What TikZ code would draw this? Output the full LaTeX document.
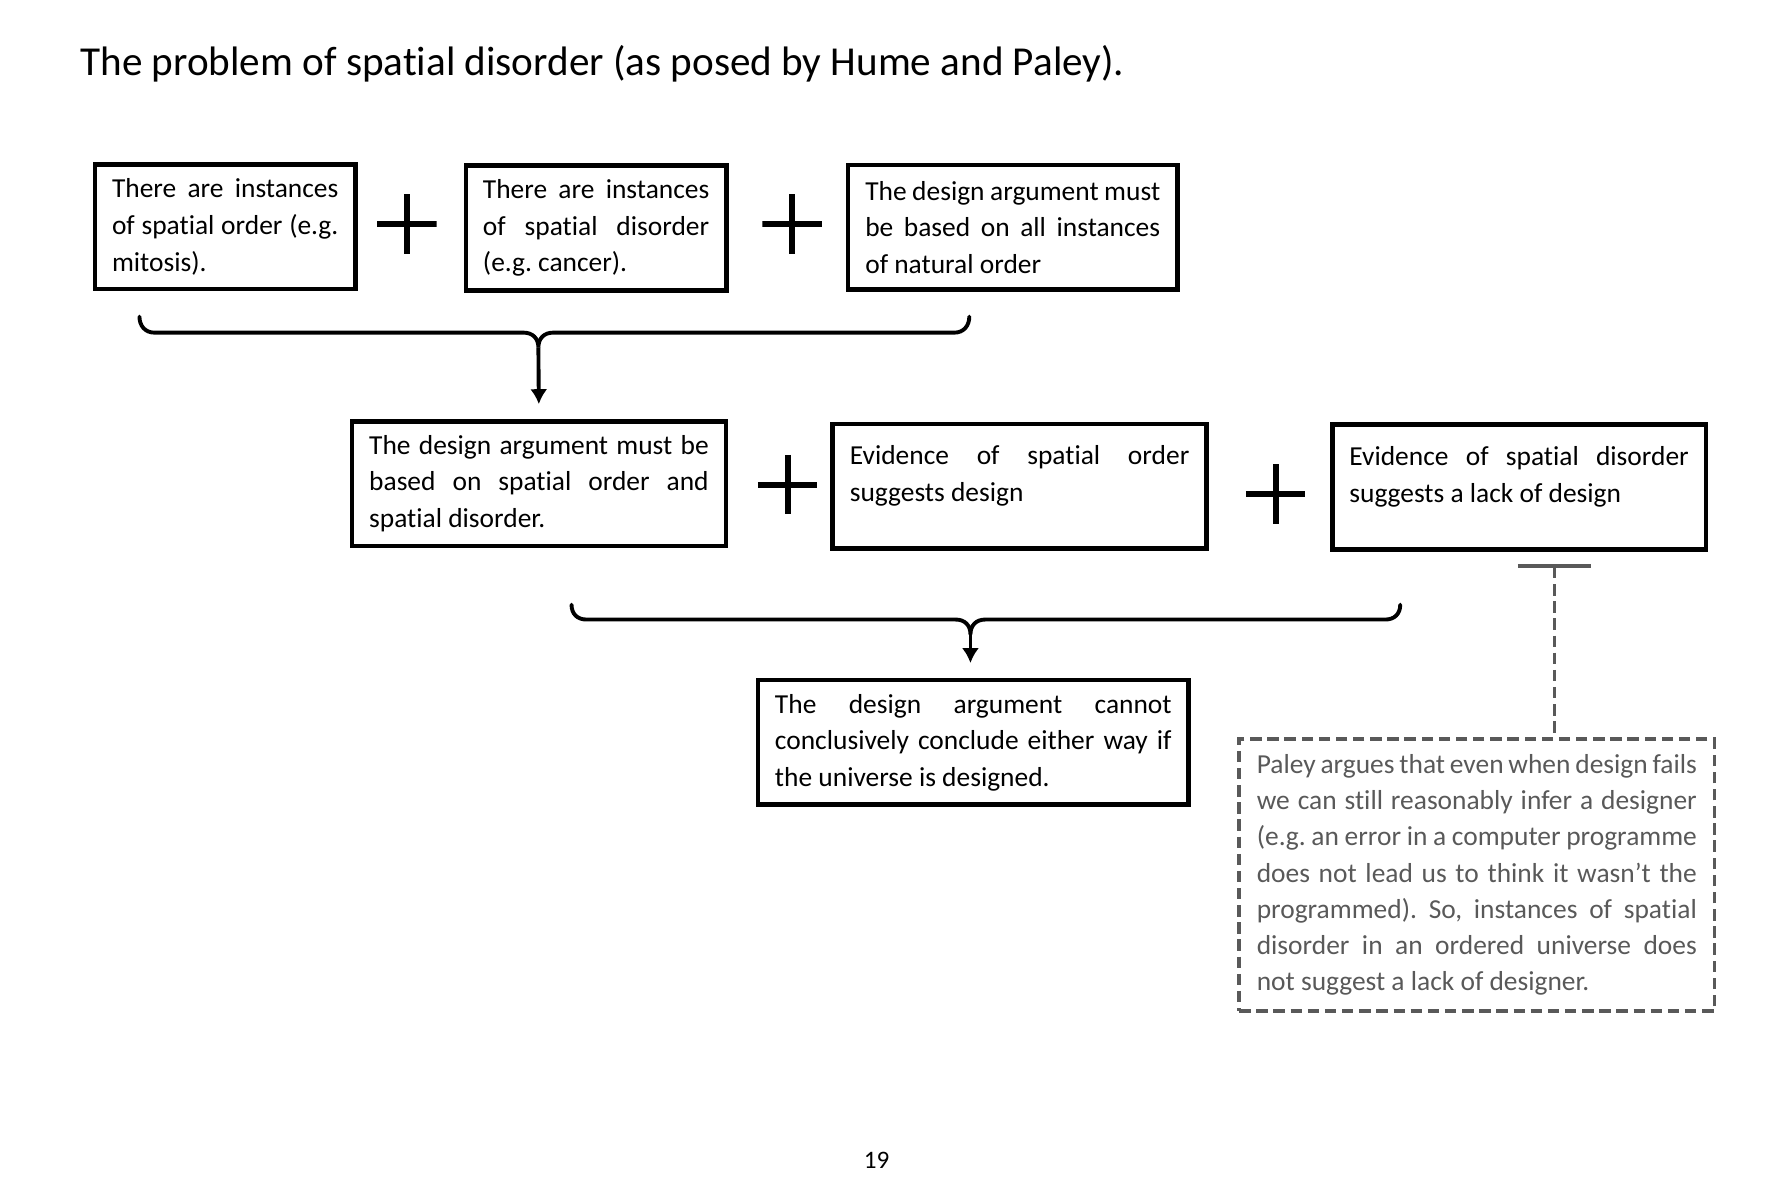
\documentclass[tikz,border=0pt]{standalone}
\usepackage{fontspec}
\setmainfont{Carlito}[Ligatures=NoCommon]
\usepackage{tikz}
\definecolor{notegray}{RGB}{89, 89, 89}
\usetikzlibrary{positioning}
\usetikzlibrary{arrows.meta}

\begin{document}
\frenchspacing
\begin{tikzpicture}[scale=0.5,
  claim/.style={draw=black, line width=2pt, inner xsep=7.5pt, inner ysep=2pt, minimum height=54.5pt, align=justify, font=\fontsize{12}{16}\selectfont},
  note/.style={draw=notegray, text=notegray, line width=1.5pt, dash pattern=on 5pt off 2.5pt, inner xsep=7.7pt, minimum height=119pt, align=justify, font=\fontsize{12}{15.85}\selectfont},
  plussign/.style={minimum size=26pt, inner sep=0pt, path picture={\draw[line width=2.6pt] (path picture bounding box.north) -- (path picture bounding box.south) (path picture bounding box.west) -- (path picture bounding box.east);}},
  brace/.style={line width=1.7pt, line cap=round},
  follows/.style={line width=1.7pt, -{Latex[length=6.5pt, width=7.5pt]}, shorten >=6.5pt}]
\useasboundingbox (0pt, 0pt) rectangle (1566pt, -1044pt);
\hyphenpenalty=10000 \tolerance=10000
\node (title) [anchor=west, inner sep=0pt, font=\fontsize{18}{21}\selectfont] at (70pt, -56pt) {The problem of spatial disorder (as posed by Hume and Paley).};
% first row
\node (order) [claim, text width=99pt] at (197pt, -198.5pt) {There are instances\linebreak of spatial order (e.g.\linebreak mitosis).};
\node (p1) [plussign] at (356pt, -196pt) {};
\node (disorder) [claim, text width=99pt] at (521.5pt, -199.5pt) {There are instances\linebreak of spatial disorder\linebreak (e.g. cancer).};
\node (p2) [plussign] at (693pt, -196pt) {};
\node (allorder) [claim, text width=129pt] at (886pt, -199pt) {The design argument must\linebreak be based on all instances\linebreak of natural order};
\draw [brace] (122pt, -277pt) .. controls (122pt, -285pt) and (127pt, -291pt) .. (135pt, -291pt) -- (458pt, -291pt) .. controls (466pt, -291pt) and (471pt, -296pt) .. (471pt, -304pt) .. controls (471pt, -296pt) and (476pt, -291pt) .. (484pt, -291pt) -- (835pt, -291pt) .. controls (843pt, -291pt) and (848pt, -285pt) .. (848pt, -277pt);
\coordinate (tip1) at (471pt, -304pt);
% second row
\node (both) [claim, text width=148.5pt] at (471.5pt, -423pt) {The design argument must be\linebreak based on spatial order and\linebreak spatial disorder.};
\node (p3) [plussign] at (689pt, -424pt) {};
\node (design) [claim, text width=148.5pt] at (892pt, -425.5pt) {Evidence of spatial order\linebreak suggests design\par\kern9pt};
\node (p4) [plussign] at (1116pt, -432pt) {};
\node (nodesign) [claim, text width=148.5pt] at (1329pt, -426pt) {Evidence of spatial disorder\linebreak suggests a lack of design\par\kern9pt};
\draw [follows] (tip1) -- (both.north);
\draw [brace] (500pt, -529pt) .. controls (500pt, -537pt) and (505pt, -542pt) .. (513pt, -542pt) -- (836pt, -542pt) .. controls (844pt, -542pt) and (849pt, -547pt) .. (849pt, -555pt) .. controls (849pt, -547pt) and (854pt, -542pt) .. (862pt, -542pt) -- (1212pt, -542pt) .. controls (1220pt, -542pt) and (1225pt, -537pt) .. (1225pt, -529pt);
\coordinate (tip2) at (849pt, -555pt);
% conclusion and Paley's reply
\node (verdict) [claim, text width=173.5pt] at (851.5pt, -649.5pt) {The design argument cannot\linebreak conclusively conclude either way if\linebreak the universe is designed.};
\draw [follows] (tip2) -- (tip2 |- verdict.north);
\node (paley) [note, text width=192.5pt] at (1292pt, -765.5pt) {Paley argues that even when design fails\linebreak we can still reasonably infer a designer\linebreak (e.g. an error in a computer programme\linebreak does not lead us to think it wasn’t the\linebreak programmed). So, instances of spatial\linebreak disorder in an ordered universe does\linebreak not suggest a lack of designer.};
\coordinate (block) at (1360pt, -493pt);
\draw [draw=notegray, line width=1.5pt, dash pattern=on 5pt off 2.5pt, {Bar[width=32pt, line width=2pt, sep=0pt]}-] (block) -- (block |- paley.north);
\node (page) [font=\fontsize{11}{13}\selectfont] at (767pt, -1015pt) {19};
\end{tikzpicture}
\end{document}
